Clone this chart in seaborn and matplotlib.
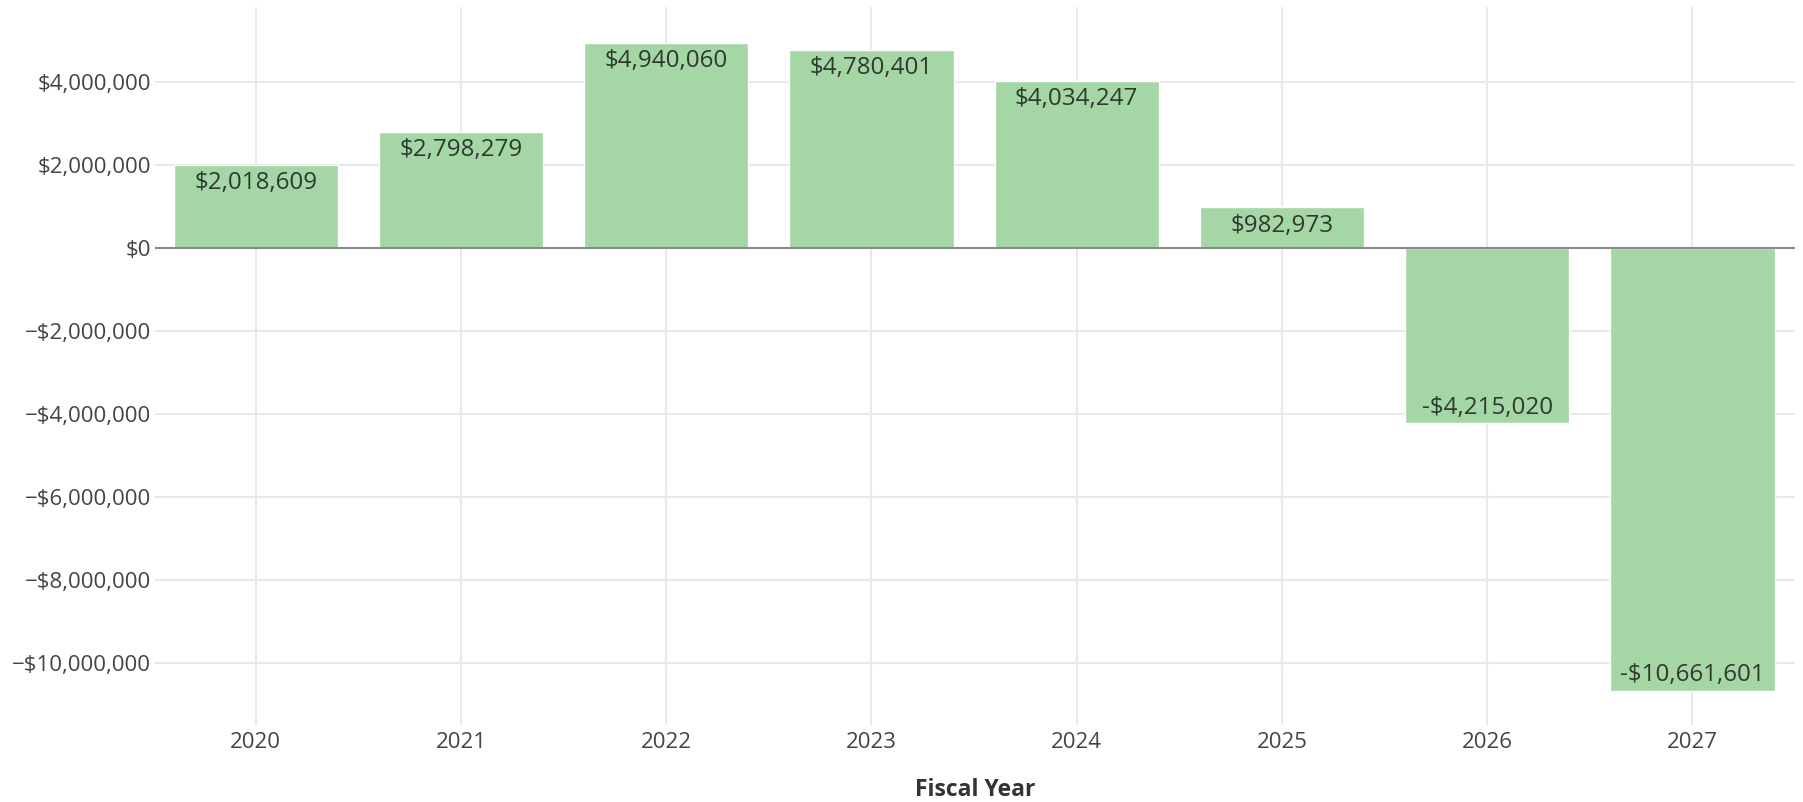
import matplotlib
matplotlib.use("Agg")
import matplotlib.pyplot as plt
import seaborn as sns
import pandas as pd
from matplotlib.ticker import FuncFormatter

# Net position by fiscal year
years = ["2020", "2021", "2022", "2023", "2024", "2025", "2026", "2027"]
values = [2018609, 2798279, 4940060, 4780401, 4034247, 982973, -4215020, -10661601]
y_ticks = [4e6, 2e6, 0, -2e6, -4e6, -6e6, -8e6, -10e6]

BAR = "#a5d6a5"
GRID = "#e9e9e9"

sns.set_style("white")
plt.rcParams["font.family"] = ["Open Sans", "DejaVu Sans"]

df = pd.DataFrame({"year": years, "value": values})

fig = plt.figure(figsize=(18.03, 8.02), dpi=100)
ax = fig.add_axes([0.086, 0.096, 0.9096, 0.895])

sns.barplot(data=df, x="year", y="value", color=BAR, saturation=1, width=0.8,
            ax=ax, zorder=2)

ax.set_xlim(-0.49, 7.5)
ax.set_ylim(-11.49e6, 5.81e6)
ax.set_yticks(y_ticks)


def money(v, _pos=None):
    s = f"${abs(v):,.0f}"
    return "\u2212" + s if v < 0 else s


ax.yaxis.set_major_formatter(FuncFormatter(money))
ax.grid(True, color=GRID, linewidth=1.5, zorder=0)
ax.set_axisbelow(True)
ax.axhline(0, color="#8a8a8a", linewidth=1.5, zorder=3)

for s in ax.spines.values():
    s.set_visible(False)
ax.tick_params(axis="both", length=0, labelsize=16, colors="#444444")
ax.tick_params(axis="y", pad=3)
ax.tick_params(axis="x", pad=5)

# value labels just inside the bar ends
for i, v in enumerate(values):
    txt = f"-${abs(v):,.0f}" if v < 0 else f"${v:,.0f}"
    ax.annotate(txt, xy=(i, v), xytext=(0, -13 if v > 0 else 11),
                textcoords="offset points", ha="center", va="center",
                fontsize=17.4, color="#2f3a2f", zorder=4)

ax.set_ylabel("")
ax.set_xlabel("Fiscal Year", fontsize=16.5, fontweight="bold", color="#333333",
              labelpad=18)

fig.savefig("out.png", dpi=100)
